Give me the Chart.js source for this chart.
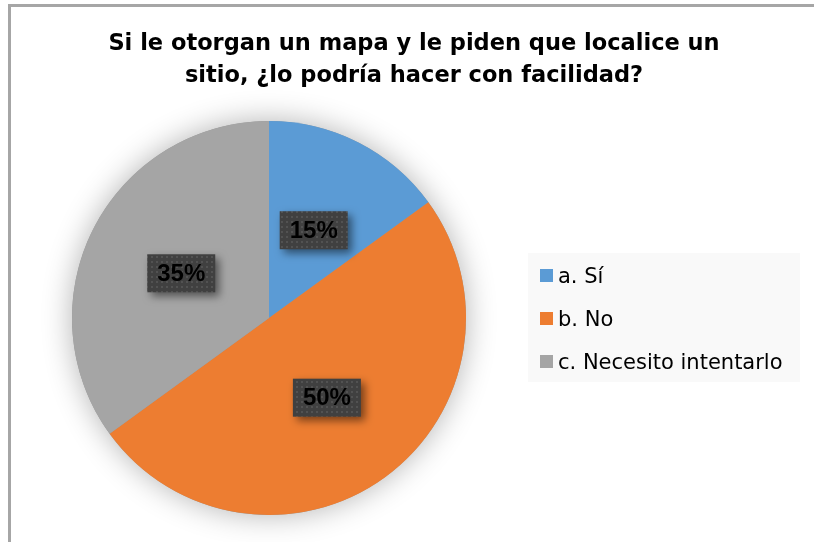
<!DOCTYPE html>
<html>
<head>
<meta charset="utf-8">
<script src="https://cdn.jsdelivr.net/npm/chart.js@4.4.1/dist/chart.umd.min.js"></script>
<style>
  html, body { margin: 0; padding: 0; background: #fff; overflow: hidden; }
  #wrap { position: relative; width: 814px; height: 542px; overflow: hidden; }
  #frame { position: absolute; left: 8px; top: 4px; width: 900px; height: 700px;
           border-left: 3px solid #a6a6a6; border-top: 3px solid #a6a6a6; }
  canvas { position: absolute; left: 0; top: 0; }
</style>
</head>
<body>
<div id="wrap">
  <div id="frame"></div>
  <canvas id="myChart" width="814" height="542"></canvas>
</div>
<script>
  // chart data
  const titleLines = ['Si le otorgan un mapa y le piden que localice un', 'sitio, ¿lo podría hacer con facilidad?'];
  const categories = ['a. Sí', 'b. No', 'c. Necesito intentarlo'];
  const percents = [15, 50, 35];
  const sliceColors = ['#5b9bd5', '#ed7d31', '#a5a5a5'];

  // dotted dark fill used behind the data labels
  function makePattern(ctx) {
    const tile = document.createElement('canvas');
    tile.width = 5; tile.height = 5;
    const t = tile.getContext('2d');
    t.fillStyle = '#404040';
    t.fillRect(0, 0, 5, 5);
    t.fillStyle = '#525252';
    t.fillRect(1, 1, 2, 2);
    return ctx.createPattern(tile, 'repeat');
  }

  // soft glow under the pie
  const pieShadow = {
    id: 'pieShadow',
    beforeDatasetsDraw(chart) {
      const arc = chart.getDatasetMeta(0).data[0];
      if (!arc) return;
      const ctx = chart.ctx;
      ctx.save();
      ctx.shadowColor = 'rgba(0,0,0,0.3)';
      ctx.shadowBlur = 30;
      ctx.fillStyle = '#999';
      ctx.beginPath();
      ctx.arc(arc.x, arc.y, arc.outerRadius, 0, Math.PI * 2);
      ctx.fill();
      ctx.restore();
    }
  };

  // percentage boxes on each slice
  const sliceLabels = {
    id: 'sliceLabels',
    afterDatasetsDraw(chart) {
      const ctx = chart.ctx;
      const pattern = makePattern(ctx);
      chart.getDatasetMeta(0).data.forEach((arc, i) => {
        const p = arc.getCenterPoint();
        const w = 68, h = 38;
        ctx.save();
        ctx.shadowColor = 'rgba(0,0,0,0.5)';
        ctx.shadowBlur = 8;
        ctx.shadowOffsetX = 4;
        ctx.shadowOffsetY = 4;
        ctx.fillStyle = pattern;
        ctx.fillRect(p.x - w / 2, p.y - h / 2, w, h);
        ctx.restore();
        ctx.save();
        ctx.fillStyle = '#000';
        ctx.font = 'bold 24px "Liberation Sans", Arial, sans-serif';
        ctx.textAlign = 'center';
        ctx.textBaseline = 'middle';
        ctx.fillText(chart.data.datasets[0].data[i] + '%', p.x, p.y + 1);
        ctx.restore();
      });
    }
  };

  // title and legend, drawn on the canvas
  const titleAndLegend = {
    id: 'titleAndLegend',
    afterDraw(chart) {
      const ctx = chart.ctx;
      ctx.save();
      ctx.fillStyle = '#000';
      ctx.font = 'bold 22.5px "DejaVu Sans", sans-serif';
      ctx.textAlign = 'center';
      ctx.textBaseline = 'alphabetic';
      ctx.fillText(titleLines[0], 414, 50);
      ctx.fillText(titleLines[1], 414, 82);

      ctx.fillStyle = '#f9f9f9';
      ctx.fillRect(528, 253, 272, 129);
      ctx.textAlign = 'left';
      ctx.font = '21px "DejaVu Sans", sans-serif';
      chart.data.labels.forEach((label, i) => {
        const y = 269 + i * 43;
        ctx.fillStyle = chart.data.datasets[0].backgroundColor[i];
        ctx.fillRect(540, y, 13, 13);
        ctx.fillStyle = '#000';
        ctx.fillText(label, 558, y + 14);
      });
      ctx.restore();
    }
  };

  const ctx = document.getElementById('myChart').getContext('2d');
  const myChart = new Chart(ctx, {
    type: 'pie',
    data: {
      labels: categories,
      datasets: [{
        data: percents,
        backgroundColor: sliceColors,
        borderWidth: 0
      }]
    },
    options: {
      responsive: false,
      animation: false,
      layout: {
        padding: { left: 72, right: 348, top: 121, bottom: 27 }
      },
      plugins: {
        legend: { display: false },
        title: { display: false },
        tooltip: { enabled: false }
      }
    },
    plugins: [pieShadow, sliceLabels, titleAndLegend]
  });
</script>
</body>
</html>
